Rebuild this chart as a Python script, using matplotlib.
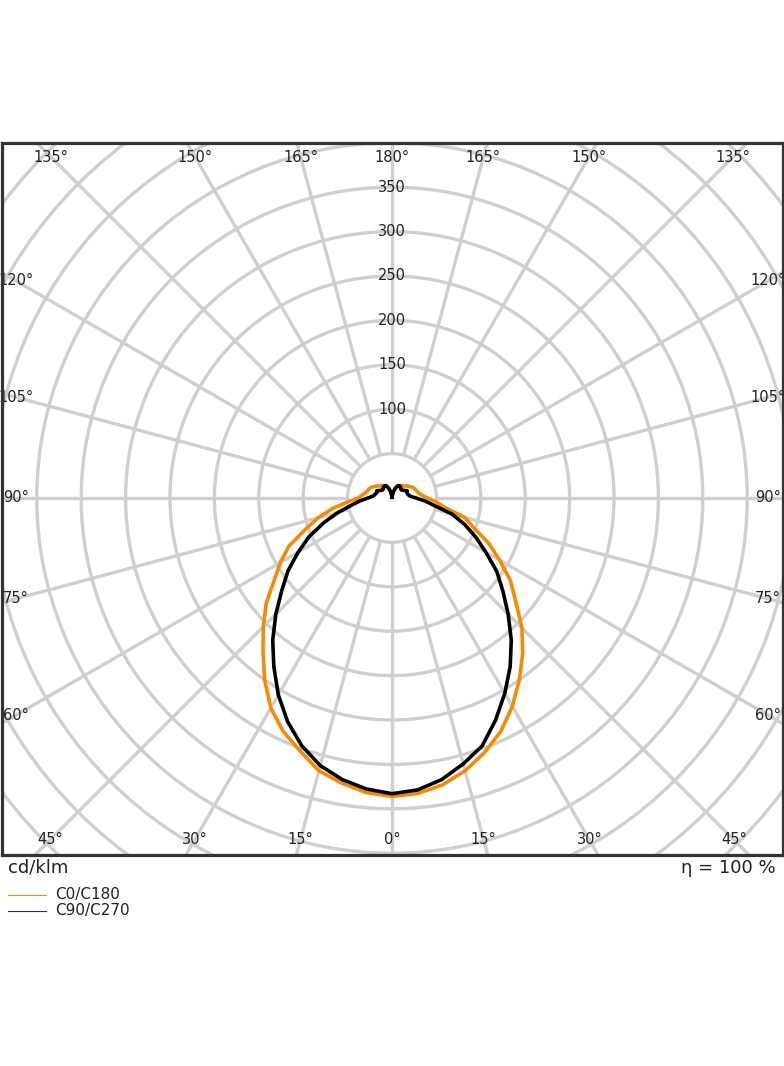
import numpy as np
import matplotlib
matplotlib.use("Agg")
import matplotlib.pyplot as plt
from matplotlib.patches import Circle
from matplotlib.lines import Line2D

# gamma angles (deg) and luminous intensity in cd/klm
gamma = list(range(0, 181, 5))

c0 = [336, 334, 328, 318, 305, 290, 271, 250, 229, 207, 182, 163, 140, 120, 98, 85, 60, 50, 40,
      34, 31, 29, 28, 27, 25, 23, 21, 19, 18, 17, 16, 15, 12, 9, 5, 2, 1]
c180 = [336, 333, 326, 318, 303, 290, 273, 250, 226, 205, 185, 162, 145, 128, 104, 86, 68, 50, 38,
        34, 31, 29, 28, 27, 25, 23, 21, 19, 18, 17, 16, 15, 12, 9, 5, 2, 1]
c90 = [333, 330, 322, 310, 297, 276, 254, 232, 209, 185, 163, 144, 122, 104, 87, 70, 48, 37, 27,
       21, 19, 18, 18, 19, 17, 15, 14, 14, 15, 16, 16, 15, 12, 9, 5, 2, 1]
c270 = [333, 329, 322, 312, 297, 278, 256, 232, 209, 185, 162, 143, 122, 103, 82, 63, 46, 36, 27,
        22, 20, 19, 18, 19, 17, 15, 14, 14, 15, 16, 16, 15, 12, 9, 5, 2, 1]

ring_values = [50, 100, 150, 200, 250, 300, 350, 400, 450, 500, 550, 600]
ring_labels = [100, 150, 200, 250, 300, 350]
ray_angles = list(range(-165, 181, 15))

ORANGE = "#f58a07"
GRID = "#cfcfcf"
TXT = "#222222"


def half_planes(right, left):
	g = np.radians(gamma)
	r_r = np.array(right, dtype=float)
	r_l = np.array(left, dtype=float)
	x = np.concatenate([-(r_l * np.sin(g))[::-1], r_r * np.sin(g)])
	y = np.concatenate([(-r_l * np.cos(g))[::-1], -r_r * np.cos(g)])
	return x, y


fig = plt.figure(figsize=(7.84, 10.66), dpi=100)
W, H = 784.0, 1066.0
ax = fig.add_axes([1.5 / W, 1 - 855 / H, 781 / W, 712 / H])
scale = 0.888  # px per cd/klm
ax.set_xlim(-390.5 / scale, 390.5 / scale)
ax.set_ylim(-357 / scale, 355 / scale)
ax.set_xticks([])
ax.set_yticks([])
for s in ax.spines.values():
	s.set_linewidth(2.3)
	s.set_color("#333333")
	s.set_zorder(10)

# grid
for rv in ring_values:
	ax.add_patch(Circle((0, 0), rv, fill=False, ec=GRID, lw=2.4, zorder=1))
for a in ray_angles:
	t = np.radians(a)
	ax.plot([50 * np.sin(t), 900 * np.sin(t)], [-50 * np.cos(t), -900 * np.cos(t)],
		color=GRID, lw=2.4, zorder=1, solid_capstyle="butt")

# curves
x, y = half_planes(c0, c180)
ax.plot(x, y, color=ORANGE, lw=2.6, zorder=3)
x, y = half_planes(c90, c270)
ax.plot(x, y, color="black", lw=2.6, zorder=4)

# radial labels along the upper axis
for rv in ring_labels:
	ax.text(0, rv, str(rv), ha="center", va="center", fontsize=10.5, color=TXT, zorder=5)

# angle labels around the frame
hw = 376 / scale
hh_top = 341 / scale
hh_bot = 342 / scale
for a in ray_angles:
	t = np.radians(a)
	sn, cs = np.sin(t), np.cos(t)
	hh = hh_bot if cs > 0 else hh_top
	cand = []
	if abs(sn) > 1e-9:
		cand.append(hw / abs(sn))
	if abs(cs) > 1e-9:
		cand.append(hh / abs(cs))
	R = min(cand)
	ax.text(R * sn, -R * cs, "%d°" % abs(a), ha="center", va="center",
		fontsize=10.5, color=TXT, zorder=6, clip_on=False)

# footer texts and legend
fig.text(8 / W, 1 - 868 / H, "cd/klm", ha="left", va="center", fontsize=13, color=TXT)
fig.text(776 / W, 1 - 868 / H, "η = 100 %", ha="right", va="center", fontsize=13, color=TXT)
for yy, col, lab in [(895, ORANGE, "C0/C180"), (911, "#333333", "C90/C270")]:
	fig.add_artist(Line2D([8 / W, 46 / W], [1 - yy / H, 1 - yy / H], color=col, lw=0.8,
		transform=fig.transFigure))
	fig.text(55 / W, 1 - yy / H, lab, ha="left", va="center", fontsize=11, color=TXT)

fig.savefig("out.png", dpi=100, facecolor="white")
